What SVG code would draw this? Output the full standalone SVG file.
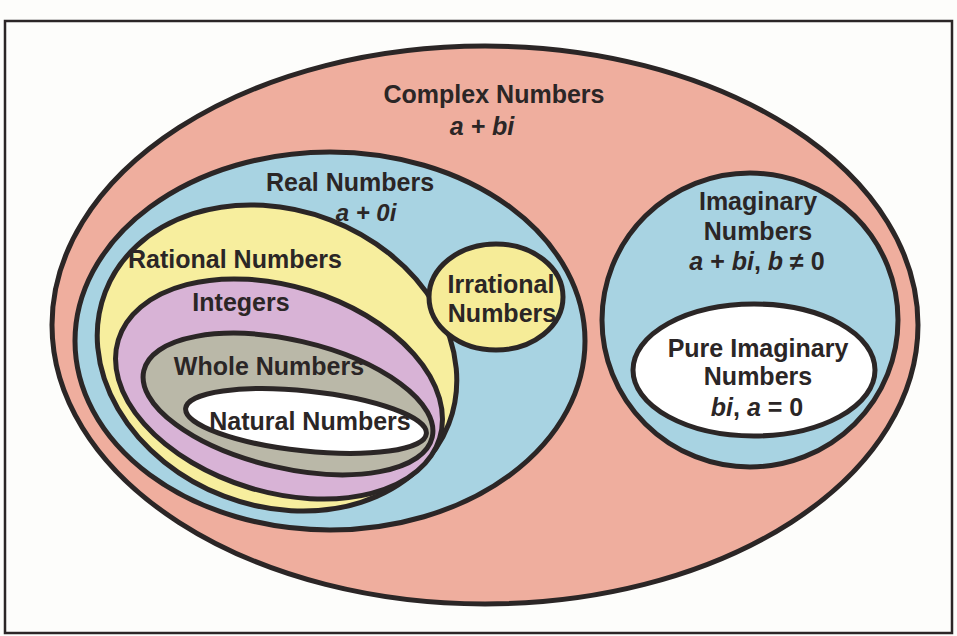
<svg xmlns="http://www.w3.org/2000/svg" width="957" height="636" viewBox="0 0 957 636">
<style>
.set{stroke:#2b2626;stroke-width:5}
.lbl{font-family:"Liberation Sans",Arial,sans-serif;font-weight:bold;font-size:25px;fill:#2b2626;text-anchor:middle}
.it{font-style:italic}
</style>
<rect x="0" y="0" width="957" height="636" fill="#fdfdfb"/>
<rect x="5" y="21" width="947" height="612" fill="none" stroke="#2b2626" stroke-width="2.5"/>
<g id="complex">
<ellipse class="set" cx="485" cy="325" rx="433" ry="279" fill="#efae9e" stroke-width="6"/>
<text class="lbl" x="494" y="103">Complex Numbers</text>
<text class="lbl it" x="482" y="135">a + bi</text>
</g>
<g id="real">
<ellipse class="set" cx="330" cy="341" rx="255" ry="189" fill="#a8d3e2"/>
<text class="lbl" x="350" y="191">Real Numbers</text>
<text class="lbl it" x="366" y="221" style="font-size:24px">a + 0i</text>
</g>
<g id="rational">
<ellipse class="set" cx="277" cy="358" rx="184" ry="148" fill="#f7ee9e" transform="rotate(21 277 358)"/>
<text class="lbl" x="235" y="268">Rational Numbers</text>
</g>
<g id="integers">
<ellipse class="set" cx="279" cy="389" rx="168" ry="103" fill="#d8b3d6" transform="rotate(17 279 389)"/>
<text class="lbl" x="241" y="311">Integers</text>
</g>
<g id="whole">
<ellipse class="set" cx="288" cy="404" rx="148" ry="64" fill="#bab8a8" transform="rotate(13 288 404)"/>
<text class="lbl" x="269" y="375">Whole Numbers</text>
</g>
<g id="natural">
<ellipse class="set" cx="306" cy="421" rx="121" ry="30" fill="#ffffff" transform="rotate(6 306 421)"/>
<text class="lbl" x="310" y="430">Natural Numbers</text>
</g>
<g id="irrational">
<ellipse class="set" cx="496" cy="297" rx="67" ry="53" fill="#f6ec98"/>
<text class="lbl" x="501" y="293">Irrational</text>
<text class="lbl" x="502" y="322">Numbers</text>
</g>
<g id="imaginary">
<ellipse class="set" cx="750" cy="320" rx="148" ry="147" fill="#a8d3e2"/>
<text class="lbl" x="758" y="210">Imaginary</text>
<text class="lbl" x="758" y="240">Numbers</text>
<text class="lbl" x="757" y="270"><tspan class="it">a</tspan> + <tspan class="it">bi</tspan>, <tspan class="it">b</tspan> ≠ 0</text>
</g>
<g id="pure">
<ellipse class="set" cx="754" cy="370" rx="121" ry="66" fill="#ffffff"/>
<text class="lbl" x="758" y="357">Pure Imaginary</text>
<text class="lbl" x="758" y="385">Numbers</text>
<text class="lbl" x="757" y="416"><tspan class="it">bi</tspan>, <tspan class="it">a</tspan> = 0</text>
</g>
<g id="connectors"/>
</svg>
